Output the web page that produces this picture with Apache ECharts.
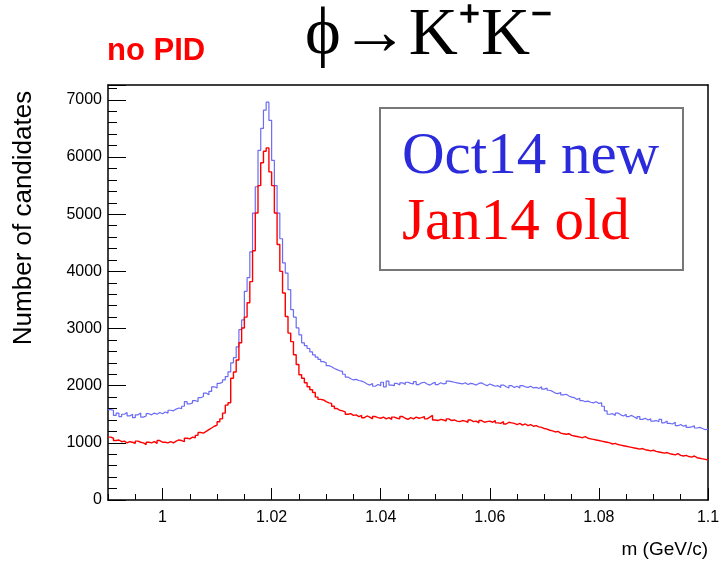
<!DOCTYPE html>
<html>
<head>
<meta charset="utf-8">
<script src="https://cdn.jsdelivr.net/npm/echarts@6/dist/echarts.min.js"></script>
<style>html,body{margin:0;padding:0;background:#fff}#main{width:726px;height:571px}</style>
</head>
<body>
<div id="main"></div>
<script>
// histogram: 220 bins of 0.0005 GeV/c from 0.99 to 1.10
const binStart = 0.99;
const binWidth = 0.0005;
const oct14New = [
  1580,1570,1480,1520,1460,1500,1530,1470,1500,1440,
  1490,1520,1450,1470,1510,1490,1520,1500,1530,1510,
  1540,1520,1570,1560,1590,1610,1600,1640,1720,1680,
  1700,1740,1720,1790,1810,1870,1840,1900,1980,1960,
  2040,2060,2100,2160,2240,2400,2490,2680,2980,3150,
  3650,3890,4340,5020,5480,6117,6500,6820,6960,6640,
  5940,5500,5020,4570,4150,3970,3680,3330,3200,3010,
  2890,2750,2700,2650,2590,2540,2500,2460,2420,2400,
  2350,2330,2300,2280,2260,2250,2200,2150,2120,2100,
  2110,2090,2080,2060,2030,2010,2040,1990,2020,2000,
  2060,1980,2080,2010,2000,2040,2010,2050,2020,2060,
  2040,2030,2070,2020,2050,2060,2030,2010,2040,2060,
  2020,2050,2030,2040,2080,2070,2060,2050,2040,2030,
  2050,2020,2040,2030,2010,2040,2050,2020,2000,2030,
  2010,1990,2000,1970,2010,1980,1960,2000,1970,1990,
  1960,2000,1980,1970,1990,1960,1970,1950,1980,1940,
  1960,1920,1900,1870,1860,1880,1840,1850,1820,1800,
  1790,1760,1780,1740,1720,1730,1710,1700,1720,1690,
  1700,1640,1560,1500,1510,1480,1520,1490,1470,1500,
  1460,1480,1450,1420,1460,1410,1430,1400,1420,1380,
  1390,1370,1410,1350,1380,1340,1330,1360,1300,1320,
  1290,1310,1270,1280,1300,1260,1270,1250,1230,1240
];
const jan14Old = [
  1100,1080,1040,1050,1020,1030,1000,1020,1010,990,
  1030,1010,1000,970,1010,1000,1020,990,1040,1010,
  1010,1000,1020,1000,1030,1050,1040,1020,1080,1070,
  1100,1090,1130,1180,1170,1200,1230,1260,1290,1310,
  1370,1420,1520,1660,1700,2130,2240,2450,2750,3010,
  3200,3450,3820,4360,5020,5500,5900,6100,6160,5740,
  5500,5020,4470,4000,3620,3210,2920,2770,2540,2370,
  2190,2130,2050,1980,1930,1880,1800,1760,1750,1720,
  1700,1690,1640,1600,1570,1560,1540,1500,1510,1480,
  1490,1460,1480,1440,1470,1450,1420,1460,1440,1430,
  1450,1420,1440,1410,1450,1430,1420,1460,1430,1410,
  1440,1420,1450,1430,1440,1460,1420,1450,1480,1400,
  1390,1410,1400,1380,1420,1390,1400,1380,1370,1390,
  1380,1360,1400,1370,1380,1350,1390,1360,1370,1380,
  1360,1390,1350,1340,1370,1330,1360,1350,1340,1320,
  1340,1310,1330,1300,1320,1290,1300,1280,1270,1250,
  1240,1220,1210,1190,1200,1170,1160,1150,1160,1130,
  1120,1110,1100,1090,1110,1080,1070,1060,1050,1040,
  1030,1020,1010,1000,980,990,970,960,950,940,
  930,920,910,900,890,900,880,870,860,870,
  850,840,830,820,830,810,800,790,810,780,
  770,780,760,750,770,740,730,720,710,700
];
const xLabels = [1, 1.02, 1.04, 1.06, 1.08, 1.1];
const xMinorTicks = [];
for (let k = 0; k <= 22; k++) xMinorTicks.push(+(0.99 + k * 0.005).toFixed(3));

// bin low edges + closing point at the last upper edge
const toSteps = (vals) => {
  const pts = vals.map((v, i) => [+(binStart + i * binWidth).toFixed(4), v]);
  pts.push([+(binStart + vals.length * binWidth).toFixed(4), vals[vals.length - 1]]);
  return pts;
};

const myChart = echarts.init(document.getElementById('main'));
const axisFont = { fontFamily: 'Liberation Sans, Arial', fontSize: 16, color: '#000' };
const serif = 'Liberation Serif, Times New Roman';
myChart.setOption({
  animation: false,
  grid: { left: 108, right: 18, top: 85, bottom: 71, outerBoundsMode: 'none' },
  xAxis: [
    {
      type: 'value', min: 0.99, max: 1.1, position: 'bottom',
      axisLine: { lineStyle: { color: '#000', width: 1.5 } },
      axisTick: { inside: true, length: 12, customValues: xLabels, lineStyle: { color: '#000' } },
      axisLabel: { ...axisFont, margin: 10, customValues: xLabels, formatter: v => String(+v.toFixed(2)) },
      splitLine: { show: false },
      name: 'm (GeV/c)', nameLocation: 'end', nameGap: 0,
      nameTextStyle: { ...axisFont, fontSize: 19, align: 'right', verticalAlign: 'top', padding: [40, 0, 0, 0] }
    },
    {
      type: 'value', min: 0.99, max: 1.1, position: 'bottom',
      axisLine: { show: false },
      axisTick: { inside: true, length: 6, customValues: xMinorTicks, lineStyle: { color: '#000' } },
      axisLabel: { show: false }, splitLine: { show: false }
    },
    {
      type: 'value', min: 0.99, max: 1.1, position: 'top',
      axisLine: { lineStyle: { color: '#000', width: 1.5 } },
      axisTick: { show: false }, axisLabel: { show: false }, splitLine: { show: false }
    }
  ],
  yAxis: [
    {
      type: 'value', min: 0, max: 7260, interval: 1000, position: 'left',
      axisLine: { show: true, lineStyle: { color: '#000', width: 1.5 } },
      axisTick: { show: true, inside: true, length: 18, lineStyle: { color: '#000' } },
      minorTick: { show: true, splitNumber: 5, length: 9, lineStyle: { color: '#000' } },
      axisLabel: { ...axisFont, margin: 6, showMaxLabel: false, formatter: v => String(v) },
      splitLine: { show: false }
    },
    {
      type: 'value', min: 0, max: 7260, position: 'right',
      axisLine: { show: true, lineStyle: { color: '#000', width: 1.5 } },
      axisTick: { show: false }, axisLabel: { show: false }, splitLine: { show: false }
    }
  ],
  graphic: [
    { type: 'text', x: 24, y: 218, rotation: Math.PI / 2,
      style: { text: 'Number of candidates', fill: '#000', font: '26px Liberation Sans, Arial', align: 'center', verticalAlign: 'middle' } },
    { type: 'text', left: 107, top: 36, style: { text: 'no PID', fill: '#ff0000', font: 'bold 31px Liberation Sans, Arial' } },
    { type: 'text', left: 305, top: 2, style: { text: 'ϕ→K⁺K⁻', fill: '#000', font: '68px ' + serif } },
    { type: 'rect', shape: { x: 380, y: 108, width: 303, height: 162 }, style: { fill: '#fff', stroke: '#777', lineWidth: 2 }, z: 10 },
    { type: 'text', left: 402, top: 128, z: 11, style: { text: 'Oct14 new', fill: '#2b2bdc', font: '59px ' + serif } },
    { type: 'text', left: 402, top: 194, z: 11, style: { text: 'Jan14 old', fill: '#ff0000', font: '59px ' + serif } }
  ],
  series: [
    {
      name: 'Oct14 new', type: 'line', step: 'end', showSymbol: false,
      data: toSteps(oct14New), lineStyle: { color: '#6b6bf5', width: 1.2 }
    },
    {
      name: 'Jan14 old', type: 'line', step: 'end', showSymbol: false,
      data: toSteps(jan14Old), lineStyle: { color: '#ff0000', width: 1.4 }
    }
  ]
});
</script>
</body>
</html>
